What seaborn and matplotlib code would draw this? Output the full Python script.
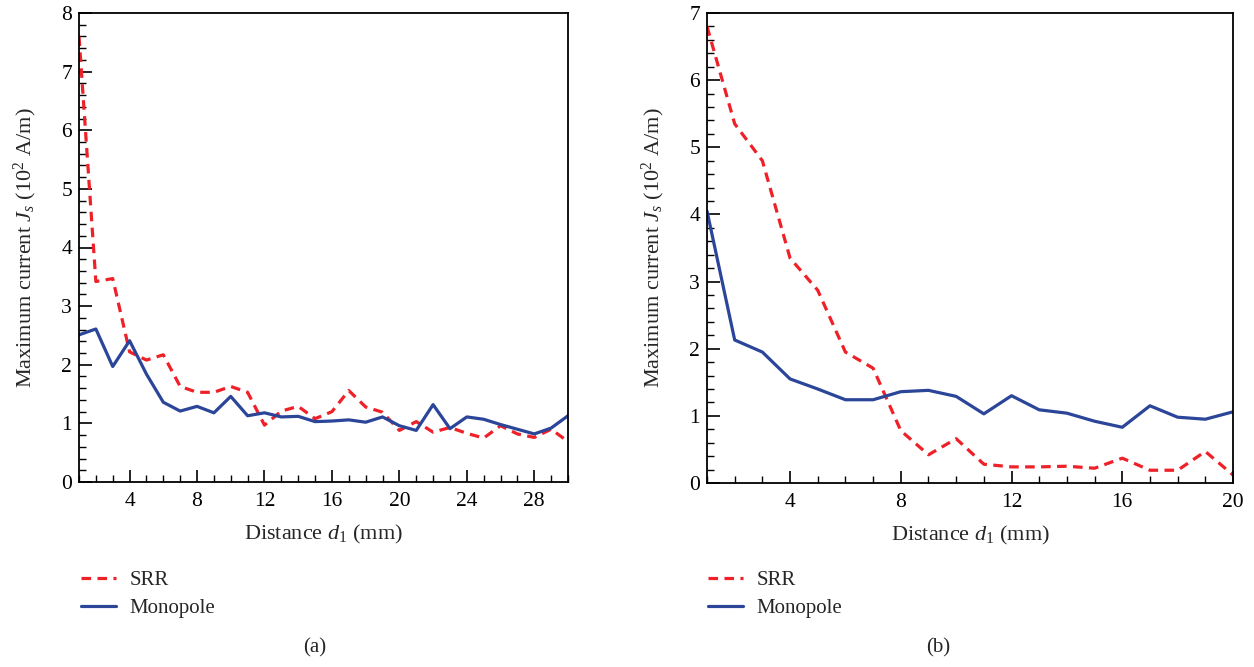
import numpy as np
import pandas as pd
import matplotlib
matplotlib.use("Agg")
import matplotlib.pyplot as plt
import seaborn as sns
from matplotlib.ticker import MultipleLocator
from matplotlib.lines import Line2D

# ---------------- data ----------------
d_a = list(range(1, 31))
srr_a = [7.6, 3.42, 3.47, 2.22, 2.08, 2.17, 1.63, 1.53, 1.53, 1.63, 1.53, 0.97,
         1.21, 1.29, 1.08, 1.2, 1.56, 1.28, 1.19, 0.88, 1.03, 0.85, 0.93, 0.83,
         0.75, 0.96, 0.82, 0.76, 0.9, 0.69]
mono_a = [2.51, 2.61, 1.97, 2.41, 1.84, 1.36, 1.21, 1.29, 1.18, 1.46, 1.13, 1.18,
          1.11, 1.12, 1.03, 1.04, 1.06, 1.02, 1.11, 0.96, 0.88, 1.32, 0.91, 1.11,
          1.07, 0.98, 0.9, 0.82, 0.92, 1.13]

d_b = list(range(1, 21))
srr_b = [6.8, 5.35, 4.8, 3.35, 2.87, 1.95, 1.71, 0.78, 0.42, 0.66, 0.28, 0.24,
         0.24, 0.25, 0.22, 0.37, 0.19, 0.19, 0.47, 0.12]
mono_b = [4.05, 2.13, 1.95, 1.55, 1.4, 1.24, 1.24, 1.36, 1.38, 1.29, 1.03, 1.3,
          1.09, 1.04, 0.92, 0.83, 1.15, 0.98, 0.95, 1.06]

series_names = ["SRR", "Monopole"]
xlabel = "Distance $d_1$ (mm)"
ylabel = "Maximum current $J_s$ ($10^2$ A/m)"
panel_labels = ["(a)", "(b)"]

RED = "#EE2028"
BLUE = "#2B4599"

# ---------------- style ----------------
sns.set_style("white")
plt.rcParams["font.family"] = ["Liberation Serif", "DejaVu Serif"]
plt.rcParams["mathtext.fontset"] = "custom"
plt.rcParams["mathtext.rm"] = "Liberation Serif"
plt.rcParams["mathtext.it"] = "Liberation Serif:italic"
plt.rcParams["mathtext.bf"] = "Liberation Serif:bold"
FS_TICK = 15.5
FS_LAB = 16
FS_LEG = 15

fig = plt.figure(figsize=(12.54, 6.67), dpi=100)
W, H = 1254, 667

def add_ax(x0, x1, y0, y1):
    return fig.add_axes([x0 / W, 1 - y1 / H, (x1 - x0) / W, (y1 - y0) / H])

ax_a = add_ax(79, 568, 13, 482)
ax_b = add_ax(707, 1233, 13, 483)

def draw(ax, d, srr, mono, xmax, ymax):
    df = pd.DataFrame({"d": d + d,
                       "val": srr + mono,
                       "series": [series_names[0]] * len(d) + [series_names[1]] * len(d)})
    sns.lineplot(data=df, x="d", y="val", hue="series", style="series",
                 palette={series_names[0]: RED, series_names[1]: BLUE},
                 dashes={series_names[0]: (3, 2), series_names[1]: ""},
                 linewidth=2.3, ax=ax, legend=False, sort=False)
    ax.set_xlim(1, xmax)
    ax.set_ylim(0, ymax)
    ax.xaxis.set_major_locator(MultipleLocator(4))
    ax.xaxis.set_minor_locator(MultipleLocator(1))
    ax.yaxis.set_major_locator(MultipleLocator(1))
    ax.yaxis.set_minor_locator(MultipleLocator(0.2))
    ax.tick_params(which="both", direction="in", top=False, right=False,
                   bottom=True, left=True, labelsize=FS_TICK, colors="black")
    ax.tick_params(axis="x", which="both", pad=7)
    ax.tick_params(axis="y", which="both", pad=5)
    ax.tick_params(which="major", length=9, width=1.2)
    ax.tick_params(which="minor", length=5, width=1.0)
    for s in ax.spines.values():
        s.set_visible(True)
        s.set_color("black")
        s.set_linewidth(1.3)
    ax.set_xlabel(xlabel, fontsize=FS_LAB, labelpad=9)
    ax.set_ylabel(ylabel, fontsize=FS_LAB, labelpad=16)
    ax.grid(False)

draw(ax_a, d_a, srr_a, mono_a, 30, 8)
draw(ax_b, d_b, srr_b, mono_b, 20, 7)

handles = [Line2D([0], [0], color=RED, lw=2.3, dashes=(3, 2)),
           Line2D([0], [0], color=BLUE, lw=2.3)]
for xl in (73, 700):
    fig.legend(handles, series_names, loc="upper left",
               bbox_to_anchor=(xl / W, 1 - 562 / H), frameon=False,
               fontsize=FS_LEG, handlelength=1.65, handletextpad=0.65,
               labelspacing=0.4, borderaxespad=0)

fig.text(315 / W, 1 - 648 / H, panel_labels[0], ha="center", va="center", fontsize=FS_LEG)
fig.text(938 / W, 1 - 648 / H, panel_labels[1], ha="center", va="center", fontsize=FS_LEG)

fig.savefig("out.png", dpi=100)
